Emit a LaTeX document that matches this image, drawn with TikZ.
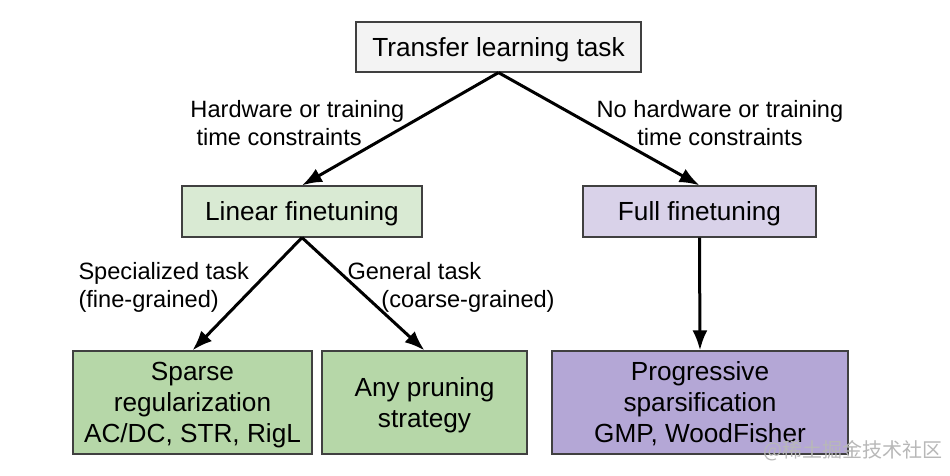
\documentclass[tikz,border=0pt]{standalone}
\usepackage{fontspec}
\setmainfont{Liberation Sans}
\newfontfamily\cjkfont{Noto Sans CJK SC}
\usetikzlibrary{arrows.meta}

\definecolor{taskgray}{HTML}{F3F3F3}
\definecolor{lingreen}{HTML}{D9EAD3}
\definecolor{fullviolet}{HTML}{D9D2E9}
\definecolor{sparsegreen}{HTML}{B6D7A8}
\definecolor{progviolet}{HTML}{B4A7D6}

\begin{document}
\begin{tikzpicture}[x=0.5pt, y=-0.5pt, >={Latex[length=10pt,width=7.5pt]},
    line width=1.5pt,
    box/.style={draw=black!75, line width=0.6pt, inner sep=0pt, align=center,
        text depth=0pt, font=\fontsize{13.1}{15.5}\selectfont},
    cond/.style={inner sep=0pt, font=\fontsize{11.8}{14}\selectfont}]
    \useasboundingbox [fill=white] (0,0) rectangle (950,476);

    % Nodes {task, lin, full, sparse, any, prog}
    \node [box, fill=taskgray, minimum width=142.5pt, minimum height=25pt]      (task)   at (498.5,47)  {Transfer learning task};
    \node [box, fill=lingreen, minimum width=120pt, minimum height=25.5pt]      (lin)    at (302,211.5) {Linear finetuning};
    \node [box, fill=fullviolet, minimum width=116.5pt, minimum height=25.5pt]  (full)   at (699.5,211.5) {Full finetuning};
    \node [box, fill=sparsegreen, minimum width=119.5pt, minimum height=51.5pt] (sparse) at (192.5,402.5) {Sparse\\regularization\\AC/DC, STR, RigL};
    \node [box, fill=sparsegreen, minimum width=102.5pt, minimum height=51.5pt] (any)    at (424.5,402.5) {Any pruning\\strategy};
    \node [box, fill=progviolet, minimum width=148pt, minimum height=51.5pt]    (prog)   at (700,402.5) {Progressive\\sparsification\\GMP, WoodFisher};

    % Conditions
    \node [cond, anchor=west, align=left]  (hw)     at (189,123) {Hardware or training\\\hspace*{3pt}time constraints};
    \node [cond, align=center]             (nohw)   at (720,123) {No hardware or training\\time constraints};
    \node [cond, anchor=west, align=left]  (spec)   at (77,287)  {Specialized task\\(fine-grained)};
    \node [cond, anchor=west, align=left]  (gen)    at (346,287) {General task\\\hspace*{17pt}(coarse-grained)};

    % Paths
    \path [->] (task.south) edge (lin.north);
    \path [->] (task.south) edge (full.north);
    \path [->] (lin.south)  edge (sparse.north);
    \path [->] (lin.south)  edge (any.north);
    \path [->] (full.south) edge (prog.north);

    % Watermark
    \node [font=\cjkfont\fontsize{10}{12}\selectfont, text=black!28] (mark) at (853,451) {@稀土掘金技术社区};
\end{tikzpicture}
\end{document}
